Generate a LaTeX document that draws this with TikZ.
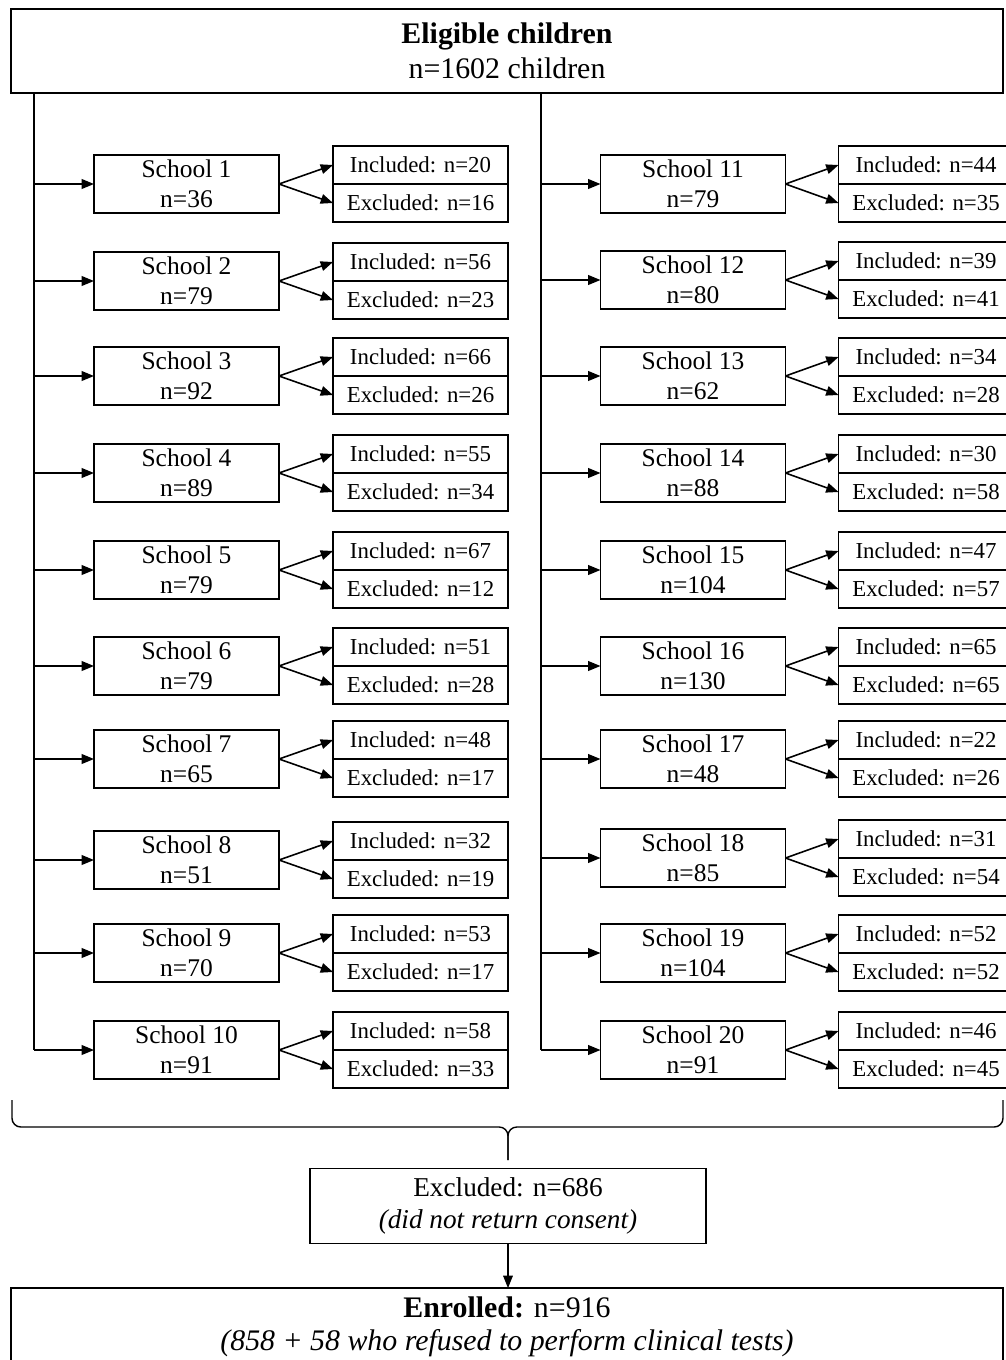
\documentclass[tikz,border=0pt]{standalone}
\usepackage{fontspec}
\setmainfont{Liberation Serif}
\usetikzlibrary{arrows.meta,positioning,calc}

\tikzset{
  box/.style={draw, line width=0.9pt, inner sep=0pt, outer sep=0pt, align=center},
  schoolbox/.style={box, minimum width=3.7cm, minimum height=1.16cm,
                    font=\fontsize{14.5}{17}\selectfont},
  countbox/.style={box, minimum width=3.5cm, minimum height=0.76cm,
                   font=\fontsize{13}{15}\selectfont},
  arr/.style={-{Triangle[length=7pt,width=5.5pt]}, line width=0.9pt},
}

\begin{document}
\begin{tikzpicture}[x=0.02cm, y=-0.02cm]
 \useasboundingbox (0,0) rectangle (1005,1360);
 % top box
 \node[box, minimum width=19.84cm, minimum height=1.68cm,
       font=\fontsize{17}{20}\selectfont] (top) at (507,51)
   {\textbf{Eligible children}\\n=1602 children};
 \coordinate (lft) at (34,92);
 \coordinate (rgt) at (541,92);
 % schools 1--10
 \foreach \i/\y/\tot/\inc/\exc in {1/184/36/20/16, 2/281/79/56/23, 3/376/92/66/26,
     4/473/89/55/34, 5/570/79/67/12, 6/666/79/51/28, 7/759/65/48/17,
     8/860/51/32/19, 9/953/70/53/17, 10/1050/91/58/33}{
   \node[schoolbox] (s\i) at (186.5,\y) {School \i\\n=\tot};
   \node[countbox, anchor=south] (in\i) at (420.5,\y) {Included: n=\inc};
   \node[countbox, anchor=north] (ex\i) at (420.5,\y) {Excluded: n=\exc};
   \draw[arr] (lft |- s\i.west) -- (s\i.west);
   \draw[arr] (s\i.east) -- (in\i.west);
   \draw[arr] (s\i.east) -- (ex\i.west);
 }
 % schools 11--20
 \foreach \i/\y/\tot/\inc/\exc in {11/184/79/44/35, 12/280/80/39/41, 13/376/62/34/28,
     14/473/88/30/58, 15/570/104/47/57, 16/666/130/65/65, 17/759/48/22/26,
     18/858/85/31/54, 19/953/104/52/52, 20/1050/91/46/45}{
   \node[schoolbox] (s\i) at (693,\y) {School \i\\n=\tot};
   \node[countbox, anchor=south] (in\i) at (926,\y) {Included: n=\inc};
   \node[countbox, anchor=north] (ex\i) at (926,\y) {Excluded: n=\exc};
   \draw[arr] (rgt |- s\i.west) -- (s\i.west);
   \draw[arr] (s\i.east) -- (in\i.west);
   \draw[arr] (s\i.east) -- (ex\i.west);
 }
 \draw[line width=0.9pt] (lft) -- (lft |- s10.west);
 \draw[line width=0.9pt] (rgt) -- (rgt |- s20.west);
 % brace
 \coordinate (brL) at (12,1100);
 \coordinate (brR) at (1003,1100);
 \coordinate (brM) at (508,1127);
 \coordinate (brT) at (508,1160);
 \draw[line width=0.8pt, rounded corners=5pt] (brL) |- (brM) -- (brT);
 \draw[line width=0.8pt, rounded corners=5pt] (brR) |- (brM) -- (brT);
 % bottom
 \node[box, minimum width=7.92cm, minimum height=1.5cm,
       font=\fontsize{15.5}{18.5}\selectfont] (exc) at (508,1206)
   {Excluded: n=686\\\textit{(did not return consent)}};
 \node[box, anchor=north, minimum width=19.84cm, minimum height=1.56cm,
       font=\fontsize{17}{19}\selectfont] (enr) at (507,1288)
   {\textbf{Enrolled:} n=916\\\textit{(858 + 58 who refused to perform clinical tests)}};
 \draw[arr, line width=0.6pt] (exc.south) -- (exc.south |- enr.north);
\end{tikzpicture}
\end{document}
